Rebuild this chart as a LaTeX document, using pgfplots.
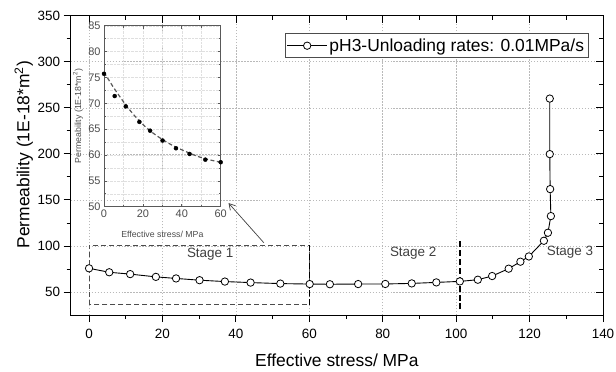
\documentclass[border=0pt]{standalone}
\usepackage{fontspec}
\setmainfont{Liberation Sans}
\usepackage{pgfplots}
\pgfplotsset{compat=1.18}
\usetikzlibrary{arrows.meta}

\begin{document}
\begin{tikzpicture}
\path[use as bounding box] (-70.7bp,-57bp) rectangle (545.3bp,315bp);
\begin{axis}[
  at={(0,0)}, anchor=south west, scale only axis,
  width=532.3bp, height=299.3bp,
  xmin=-5, xmax=140, ymin=25, ymax=350,
  xtick={0,20,...,140}, ytick={50,100,...,350},
  minor x tick num=1, minor y tick num=1,
  xtick pos=left, ytick pos=left, tick align=outside,
  major tick length=7bp, minor tick length=4bp,
  tick style={black, line width=0.8pt},
  axis line style={line width=1pt},
  grid=major,
  major grid style={gray!55, dash pattern=on 1.5pt off 1.5pt, line width=0.5pt},
  ticklabel style={font=\fontsize{13.5}{15}\selectfont},
  xticklabel style={yshift=-4bp},
  /pgf/number format/assume math mode=true,
  xlabel={Effective stress/ MPa},
  ylabel={Permeability (1E-18*m\textsuperscript{2})},
  label style={font=\fontsize{17.5}{20}\selectfont},
  xlabel style={at={(axis description cs:0.5,-0.152)}, anchor=center},
  ylabel style={at={(axis description cs:-0.088,0.535)}, anchor=center},
  legend style={at={(axis description cs:0.9724,0.941)}, anchor=north east,
    draw=gray!60!black, line width=0.6pt, font=\fontsize{17.5}{20}\selectfont,
    inner xsep=2pt, inner ysep=3pt},
  legend image code/.code={\draw[mark repeat=2,mark phase=2] plot coordinates {(0cm,0cm) (0.7cm,0cm) (1.4cm,0cm)};},
]
\addplot[black, line width=0.9pt, mark=*, mark size=3.7bp,
  mark options={fill=white, draw=black, line width=0.8pt}] coordinates {
(0,75.7)(5.5,71.4)(11.2,69.4)(18.2,66.4)(23.7,64.7)(30.1,62.8)(37,61.3)(44,60.2)
(52.1,59.1)(60.1,58.6)(65.6,58.4)(73.3,58.6)(80.7,58.7)(87.9,59.3)(94.6,60.4)
(101,61.5)(105.9,63.3)(109.8,67.3)(114.3,75.3)(117.5,82.9)(119.8,88.6)
(123.9,105.6)(125,114.3)(125.8,132.4)(125.6,161.7)(125.5,199.7)(125.5,260)
};
\addlegendentry{pH3-Unloading rates: 0.01MPa/s}
\draw[gray!60!black, dash pattern=on 5pt off 3pt, line width=0.8pt] (axis cs:0,36) rectangle (axis cs:60,101);
\draw[black, dash pattern=on 6pt off 3pt, line width=1.4pt] (axis cs:60,36)--(axis cs:60,101);
\draw[black, dash pattern=on 6pt off 3pt, line width=1.4pt] (axis cs:101,31)--(axis cs:101,107);
\node[font=\fontsize{13.5}{15}\selectfont, text=black!75] at (axis cs:33,90.5) {Stage 1};
\node[font=\fontsize{13.5}{15}\selectfont, text=black!75] at (axis cs:88.3,92.6) {Stage 2};
\node[font=\fontsize{13.5}{15}\selectfont, text=black!75] at (axis cs:131,93.7) {Stage 3};
\draw[-{Straight Barb[length=6pt,width=7pt]}, line width=0.7pt, black!75] (axis cs:47.6,103.5)--(axis cs:38,146.5);
\end{axis}
\begin{axis}[
  at={(0,0)}, anchor=south west, scale only axis,
  width=532.3bp, height=299.3bp,
  xmin=-5, xmax=140, ymin=25, ymax=350,
  xtick={0,20,...,140}, ytick={50,100,...,350},
  minor x tick num=1, minor y tick num=1,
  xtick pos=right, ytick pos=right, tick align=inside,
  major tick length=7bp, minor tick length=4bp,
  tick style={black, line width=0.8pt},
  axis line style={line width=1pt},
  xticklabels={}, yticklabels={},
]
\end{axis}
\begin{axis}[
  at={(33.3bp,108.3bp)}, anchor=south west, scale only axis,
  width=116.7bp, height=181bp,
  xmin=0, xmax=60, ymin=50, ymax=85,
  xtick={0,20,40,60}, ytick={50,55,...,85},
  minor x tick num=1, minor y tick num=1,
  tick align=inside, major tick length=3bp, minor tick length=2bp,
  tick style={gray!70!black, line width=0.6pt},
  grid=both, grid style={gray!25, densely dotted, line width=0.4pt},
  axis line style={gray!70!black, line width=0.8pt},
  ticklabel style={font=\fontsize{11}{12}\selectfont, text=black!70},
  /pgf/number format/assume math mode=true,
  xlabel={Effective stress/ MPa},
  ylabel={Permeability (1E-18*m\textsuperscript{2})},
  label style={font=\fontsize{8.8}{10}\selectfont, text=black!70},
  xlabel style={at={(axis description cs:0.5,-0.151)}, anchor=center},
  ylabel style={at={(axis description cs:-0.223,0.5)}, anchor=center},
  clip marker paths=false,
]
\addplot[gray!70!black, dash pattern=on 4pt off 2.5pt, line width=1.2pt, smooth] coordinates {
(0,76)(5,73)(10,70.3)(15,67.9)(20,65.9)(25,64.3)(30,63.0)(35,61.9)(40,61.0)(45,60.2)(50,59.5)(55,59.0)(60,58.6)
};
\addplot[only marks, mark=*, mark size=2bp, black] coordinates {
(0,75.7)(5.5,71.4)(11.2,69.4)(18.2,66.4)(23.7,64.7)(30.1,62.8)(37,61.3)(44,60.2)(52.1,59.1)(60,58.6)
};
\end{axis}
\end{tikzpicture}
\end{document}
